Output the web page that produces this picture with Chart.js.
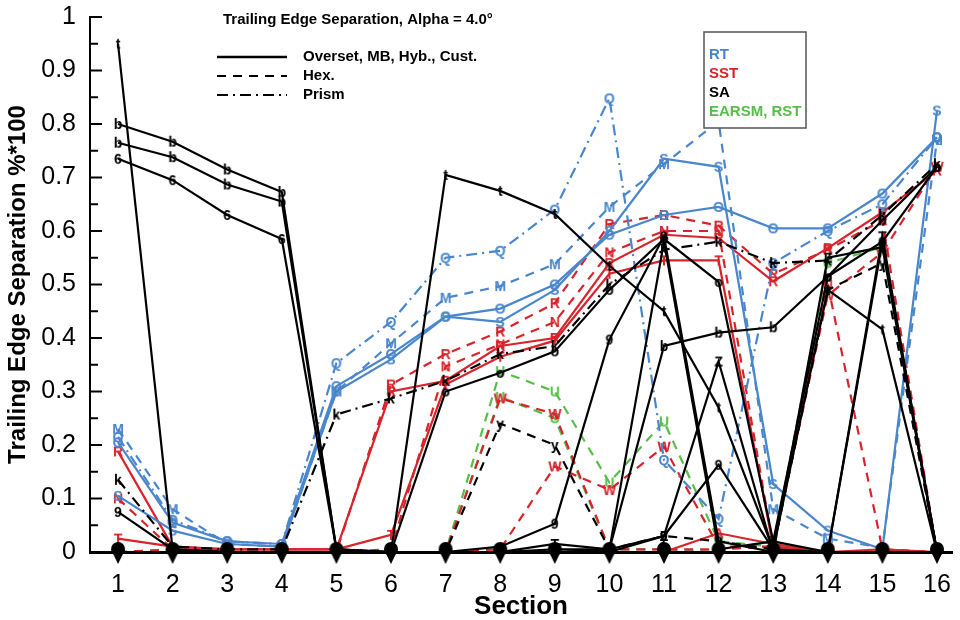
<!DOCTYPE html>
<html><head><meta charset="utf-8">
<script src="https://cdn.jsdelivr.net/npm/chart.js@4.4.0/dist/chart.umd.min.js"></script>
<style>html,body{margin:0;padding:0;background:#fff}</style>
</head><body>
<canvas id="c" width="960" height="620"></canvas>
<script>
// ---------- data ----------
const sections = [1,2,3,4,5,6,7,8,9,10,11,12,13,14,15,16];
const sectionLabels = ['1','2','3','4','5','6','7','8','9','10','11','12','13','14','15','16'];
const yTicks = [0,0.05,0.1,0.15,0.2,0.25,0.3,0.35,0.4,0.45,0.5,0.55,0.6,0.65,0.7,0.75,0.8,0.85,0.9,0.95,1];
const yTickLabels = ['0','','0.1','','0.2','','0.3','','0.4','','0.5','','0.6','','0.7','','0.8','','0.9','','1'];
const chartTitle = 'Trailing Edge Separation, Alpha = 4.0°';
const styleLegend = ['Overset, MB, Hyb., Cust.','Hex.','Prism'];
const modelLegend = ['RT','SST','SA','EARSM, RST'];
const xTitle = 'Section';
const yTitle = 'Trailing Edge Separation %*100';

// RT (blue)
const rtSolidO  = [0.205,0.055,0.02,0.015,0.31,0.37,0.44,0.455,0.50,0.593,0.63,0.645,0.605,0.605,0.67,0.775];
const rtSolidS  = [0.105,0.04,0.015,0.01,0.30,0.36,0.44,0.43,0.49,0.60,0.735,0.72,0.127,0.04,0.005,0.825];
const rtHexM    = [0.23,0.08,0.015,0.01,0.30,0.39,0.475,0.497,0.538,0.645,0.725,0.805,0.08,0.025,0.008,0.77];
const rtPrismQ  = [0.215,0.06,0.02,0.015,0.353,0.43,0.55,0.563,0.64,0.848,0.172,0.062,0.54,0.60,0.65,0.775];
// SST (red)
const sstSolidR = [0.188,0.01,0.005,0.005,0.005,0.30,0.32,0.385,0.40,0.54,0.593,0.587,0.506,0.568,0.635,0.713];
const sstSolidT = [0.025,0.01,0.005,0.005,0.005,0.032,0.313,0.365,0.395,0.52,0.545,0.545,0.01,0.0,0.005,0.0];
const sstSolidA = [0,0,0,0,0,0,0,0,0,0,0,0.035,0.015,0,0,0];
const sstHexR   = [0,0.005,0,0,0,0.313,0.37,0.412,0.465,0.613,0.63,0.61,0.52,0.565,0.62,0];
const sstHexN   = [0.10,0.005,0,0,0,0.005,0.347,0.388,0.43,0.56,0.60,0.60,0.01,0.50,0.005,0];
const sstHexW   = [0,0,0,0,0,0,0,0.287,0.258,0.005,0.005,0.005,0.01,0.48,0.56,0.72];
const sstHexV   = [0,0,0,0,0,0,0,0.005,0.16,0.116,0.197,0.01,0.01,0,0,0];
// EARSM, RST (green)
const earsmU    = [0,0,0,0,0,0,0,0.338,0.30,0.13,0.244,0.02,0.01,0.54,0.57,0];
const rstW      = [0,0,0,0,0,0,0,0.29,0.25,0.005,0.005,0,0,0,0,0];
// SA (black)
const saB1      = [0.80,0.767,0.715,0.673,0.005,0,0,0,0,0,0,0,0,0,0,0];
const saB2      = [0.765,0.738,0.687,0.655,0.005,0,0,0,0,0,0,0,0,0,0,0];
const sa6       = [0.735,0.695,0.63,0.585,0.005,0,0,0,0,0,0,0,0,0,0,0];
const saT       = [0.95,0.005,0,0,0,0,0.705,0.675,0.632,0.535,0.45,0.27,0.005,0.49,0.416,0];
const sa9       = [0.075,0.005,0,0,0,0,0,0.01,0.053,0.397,0.59,0.02,0,0,0.58,0];
const saO       = [0,0,0,0,0,0,0.30,0.335,0.375,0.49,0.585,0.505,0.02,0.515,0.58,0.72];
const saB3      = [0,0,0,0,0,0,0,0,0.005,0.005,0.385,0.41,0.42,0.515,0.62,0.72];
const saZ       = [0,0,0,0,0,0,0,0,0,0.005,0.03,0.356,0,0.55,0.57,0];
const saG       = [0,0,0,0,0,0,0,0,0,0,0.03,0.163,0.005,0,0,0];
const saX       = [0,0,0,0,0,0,0,0,0.015,0.005,0.58,0.005,0.02,0,0.59,0];
const saPrismK  = [0.135,0.01,0.005,0.005,0.257,0.287,0.32,0.37,0.385,0.50,0.565,0.58,0.54,0.545,0.63,0.725];
const saHexY    = [0,0,0,0,0,0,0,0.24,0.20,0.005,0.03,0.02,0.005,0.49,0.54,0];
const saZeroMarks = [0,0,0,0,0,0,0,0,0,0,0,0,0,0,0,0];

// ---------- styling ----------
const BLUE='#4a86cc', RED='#d8232a', BLACK='#000000', GREEN='#56bf48';
const SOLID=[], DASH=[9,7], DASHDOT=[11,5,2,5];
const FONT='"Liberation Sans", Arial, Helvetica, sans-serif';

function letterMark(ch,color){
  const c=document.createElement('canvas'); c.width=16; c.height=16;
  const g=c.getContext('2d');
  g.font='bold 14px '+FONT; g.fillStyle=color; g.textAlign='center'; g.textBaseline='middle';
  g.fillText(ch,8,9);
  return c;
}
function blobMark(){
  const c=document.createElement('canvas'); c.width=16; c.height=28;
  const g=c.getContext('2d'); g.fillStyle='#000';
  g.beginPath(); g.arc(8,11,7,0,Math.PI*2); g.fill();
  g.beginPath(); g.moveTo(1.2,12); g.lineTo(14.8,12); g.lineTo(8,26); g.closePath(); g.fill();
  return c;
}
function ds(label,arr,color,dash,ch){
  return {
    label, data: arr.map((v,i)=>({x:sections[i],y:v})),
    borderColor:color, backgroundColor:color, borderWidth:2.2, borderDash:dash,
    pointStyle: letterMark(ch,color),
    pointRadius: ctx => (ctx.raw && ctx.raw.y>=0.012) ? 5 : 0,
    tension:0, fill:false
  };
}

const datasets = [
  {label:'zero', data: saZeroMarks.map((v,i)=>({x:sections[i],y:v})), showLine:false,
   pointStyle: blobMark(), pointRadius:7, borderColor:'#000', backgroundColor:'#000', clip:false},
  ds('SA b1',saB1,BLACK,SOLID,'b'),
  ds('SA b2',saB2,BLACK,SOLID,'b'),
  ds('SA 6',sa6,BLACK,SOLID,'6'),
  ds('SA t',saT,BLACK,SOLID,'t'),
  ds('SA 9',sa9,BLACK,SOLID,'9'),
  ds('SA o',saO,BLACK,SOLID,'o'),
  ds('SA b3',saB3,BLACK,SOLID,'b'),
  ds('SA Z',saZ,BLACK,SOLID,'Z'),
  ds('SA G',saG,BLACK,SOLID,'9'),
  ds('SA X',saX,BLACK,SOLID,'T'),
  ds('SA k',saPrismK,BLACK,DASHDOT,'k'),
  ds('SA y',saHexY,BLACK,DASH,'y'),
  ds('RT O',rtSolidO,BLUE,SOLID,'O'),
  ds('RT S',rtSolidS,BLUE,SOLID,'S'),
  ds('RT M',rtHexM,BLUE,DASH,'M'),
  ds('RT Q',rtPrismQ,BLUE,DASHDOT,'Q'),
  ds('SST R',sstSolidR,RED,SOLID,'R'),
  ds('SST T',sstSolidT,RED,SOLID,'T'),
  ds('SST A',sstSolidA,RED,SOLID,'A'),
  ds('SST hR',sstHexR,RED,DASH,'R'),
  ds('SST N',sstHexN,RED,DASH,'N'),
  ds('SST W',sstHexW,RED,DASH,'W'),
  ds('SST V',sstHexV,RED,DASH,'W'),
  ds('EARSM U',earsmU,GREEN,DASH,'U'),
  ds('RST W',rstW,GREEN,DASH,'U'),
];

// ---------- decorations ----------
const deco = {
  id:'deco',
  afterDraw(chart){
    const {ctx, scales:{y}, chartArea} = chart;
    ctx.save();
    ctx.strokeStyle='#000'; ctx.lineWidth=2;
    yTicks.forEach((v,i)=>{
      const py=y.getPixelForValue(v);
      const len = yTickLabels[i] ? 12 : 8;
      ctx.beginPath(); ctx.moveTo(chartArea.left,py); ctx.lineTo(chartArea.left+len,py); ctx.stroke();
    });
    ctx.fillStyle='#000'; ctx.font='bold 15px '+FONT; ctx.textBaseline='middle'; ctx.textAlign='left';
    ctx.fillText(chartTitle,223,20);
    const ly=[57,76,95], dashes=[SOLID,DASH,DASHDOT];
    styleLegend.forEach((t,i)=>{
      ctx.setLineDash(dashes[i]); ctx.lineWidth= i===0?2.5:2;
      ctx.beginPath(); ctx.moveTo(217,ly[i]); ctx.lineTo(287,ly[i]); ctx.stroke();
      ctx.setLineDash([]);
      ctx.fillText(t,303,ly[i]);
    });
    ctx.fillStyle='#fff'; ctx.fillRect(704,32,102,96);
    ctx.strokeStyle='#555'; ctx.lineWidth=1.5; ctx.strokeRect(704,32,102,96);
    const cols=[BLUE,RED,BLACK,GREEN], my=[55,74,93,112];
    modelLegend.forEach((t,i)=>{ ctx.fillStyle=cols[i]; ctx.fillText(t,709,my[i]); });
    ctx.restore();
  }
};

new Chart(document.getElementById('c'),{
  type:'line',
  data:{datasets},
  plugins:[deco],
  options:{
    responsive:false, animation:false,
    layout:{padding:{left:0,right:0,top:17,bottom:-2}},
    plugins:{legend:{display:false},tooltip:{enabled:false}},
    scales:{
      x:{type:'linear',min:0.487,max:16.275,
        afterBuildTicks:s=>{s.ticks=sections.map(v=>({value:v}));},
        afterFit:s=>{s.height=70; s.paddingLeft=0; s.paddingRight=0;},
        grid:{display:false}, border:{display:true,color:'#000',width:3},
        ticks:{autoSkip:false,maxRotation:0,padding:10,color:'#000',font:{family:FONT,size:25},
          callback:(v,i)=>sectionLabels[i]},
        title:{display:true,text:xTitle,color:'#000',font:{family:FONT,size:26,weight:'bold'},padding:{top:0,bottom:0}}
      },
      y:{min:0,max:1,
        afterBuildTicks:s=>{s.ticks=yTicks.map(v=>({value:v}));},
        afterFit:s=>{s.width=90; s.paddingTop=0; s.paddingBottom=0;},
        grid:{display:false}, border:{display:true,color:'#000',width:2},
        ticks:{autoSkip:false,padding:6,color:'#000',font:{family:FONT,size:25},
          callback:(v,i)=>yTickLabels[i]},
        title:{display:true,text:yTitle,color:'#000',font:{family:FONT,size:24,weight:'bold'},padding:{top:4,bottom:0}}
      }
    }
  }
});
</script>
</body></html>
